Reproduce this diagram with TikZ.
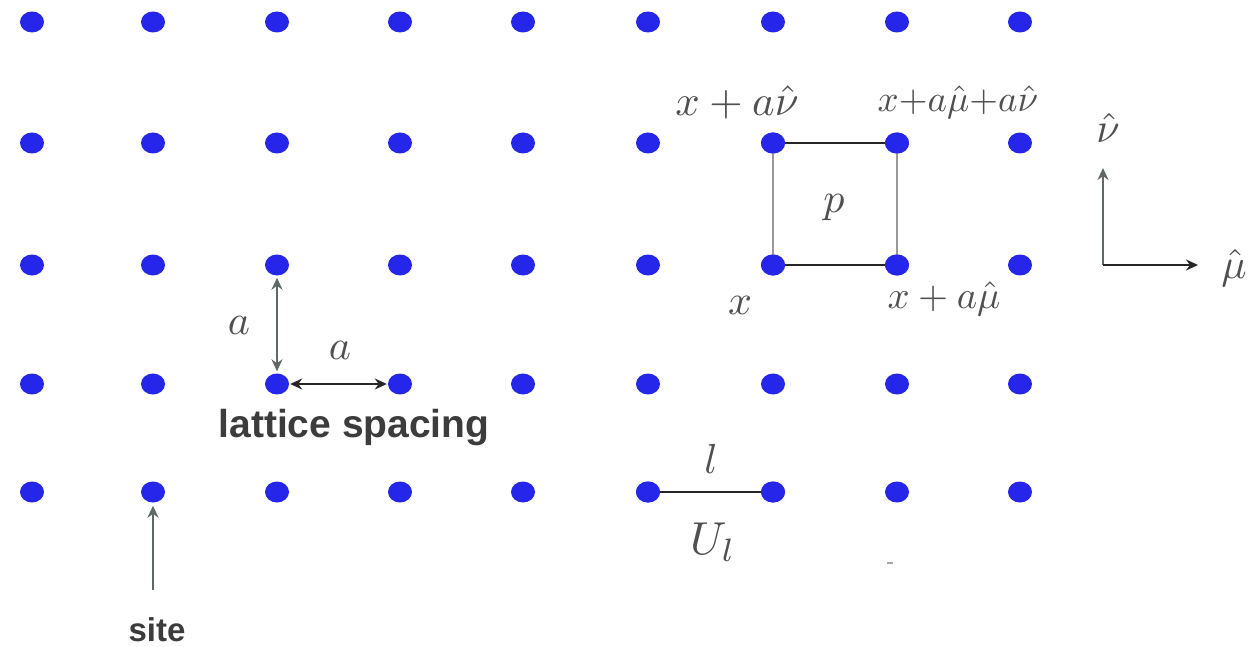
\documentclass[tikz,border=0pt]{standalone}
\usepackage{fontspec}
\setsansfont{Liberation Sans}
\usetikzlibrary{arrows.meta,shapes.geometric}
\definecolor{dotblue}{RGB}{38,38,235}
\definecolor{labgray}{RGB}{80,80,80}
\definecolor{txtgray}{RGB}{60,60,60}
\definecolor{arrgray}{RGB}{95,105,100}
\tikzset{
  site/.style={ellipse, fill=dotblue, minimum width=24pt, minimum height=21pt, inner sep=0pt},
  mlab/.style={text=labgray, inner sep=0pt, scale=4.2},
  slab/.style={text=txtgray, font=\sffamily\bfseries\fontsize{36}{40}\selectfont, inner sep=0pt},
  blk/.style={line width=2pt, black!85},
  gry/.style={line width=1.6pt, gray!80},
  arr/.style={line width=1.8pt, -{Stealth[length=12pt,width=11pt]}},
}
\begin{document}
\begin{tikzpicture}[x=1pt,y=-1pt]
\useasboundingbox (0,0) rectangle (1253,647);
\fill[white] (0,0) rectangle (1253,647);
% lattice sites
\foreach \c/\x in {1/32,2/153,3/277,4/400,5/523,6/648,7/773,8/897,9/1020}{
  \foreach \r/\y in {1/22,2/143,3/265,4/384,5/492}{
    \node[site] (d\c\r) at (\x,\y) {};
  }
}
% plaquette
\draw[gry] (d72.center) -- (d73.center);
\draw[gry] (d82.center) -- (d83.center);
\draw[blk] (d72.center) -- (d82.center);
\draw[blk] (d73.center) -- (d83.center);
\node[site] at (d72) {};
\node[site] at (d82) {};
\node[site] at (d73) {};
\node[site] at (d83) {};
\node[mlab, scale=1.02] (lxnu) at (737,102) {$x+a\hat\nu$};
\node[mlab, scale=0.88] (lxmunu) at (958,102) {$x{+}a\hat\mu{+}a\hat\nu$};
\node[mlab] (lp) at (834,208) {$p$};
\node[mlab] (lx) at (740,305) {$x$};
\node[mlab, scale=0.92] (lxmu) at (944,299) {$x+a\hat\mu$};
% link
\draw[blk] (d65.center) -- (d75.center);
\node[site] at (d65) {};
\node[site] at (d75) {};
\node[mlab] (ll) at (711,459) {$l$};
\node[mlab, scale=1.1] (lU) at (713,542) {$U_l$};
\coordinate (dash) at (890,563);
\draw[gray!70, line width=1.2pt] ([xshift=-3pt]dash) -- ([xshift=3pt]dash);
% lattice spacing
\draw[arr, arrgray, {Stealth[length=12pt,width=11pt]}-{Stealth[length=12pt,width=11pt]}] ([yshift=-2pt]d33.south) -- ([yshift=2pt]d34.north);
\draw[arr, black!85, line width=1.6pt, {Stealth[length=12pt,width=11pt]}-{Stealth[length=12pt,width=11pt]}] ([xshift=1pt]d34.east) -- ([xshift=-1pt]d44.west);
\node[mlab] (la1) at (239,325) {$a$};
\node[mlab] (la2) at (340,350) {$a$};
\node[slab, font=\sffamily\bfseries\fontsize{39}{42}\selectfont] (lsp) at (354,428) {lattice spacing};
% site
\node[slab, font=\sffamily\bfseries\fontsize{33}{36}\selectfont] (lsite) at (157,630) {site};
\coordinate (sitetail) at (153,590);
\draw[arr, arrgray] (sitetail) -- ([yshift=-3pt]d25.south);
% axes
\coordinate (o) at (1103,265);
\coordinate (ny) at (1103,168);
\coordinate (mx) at (1198,265);
\draw[arr, arrgray] (o) -- (ny);
\draw[arr, black!85] (o) -- (mx);
\node[mlab] (lnu) at (1108,128) {$\hat\nu$};
\node[mlab] (lmu) at (1234,268) {$\hat\mu$};
\end{tikzpicture}
\end{document}
